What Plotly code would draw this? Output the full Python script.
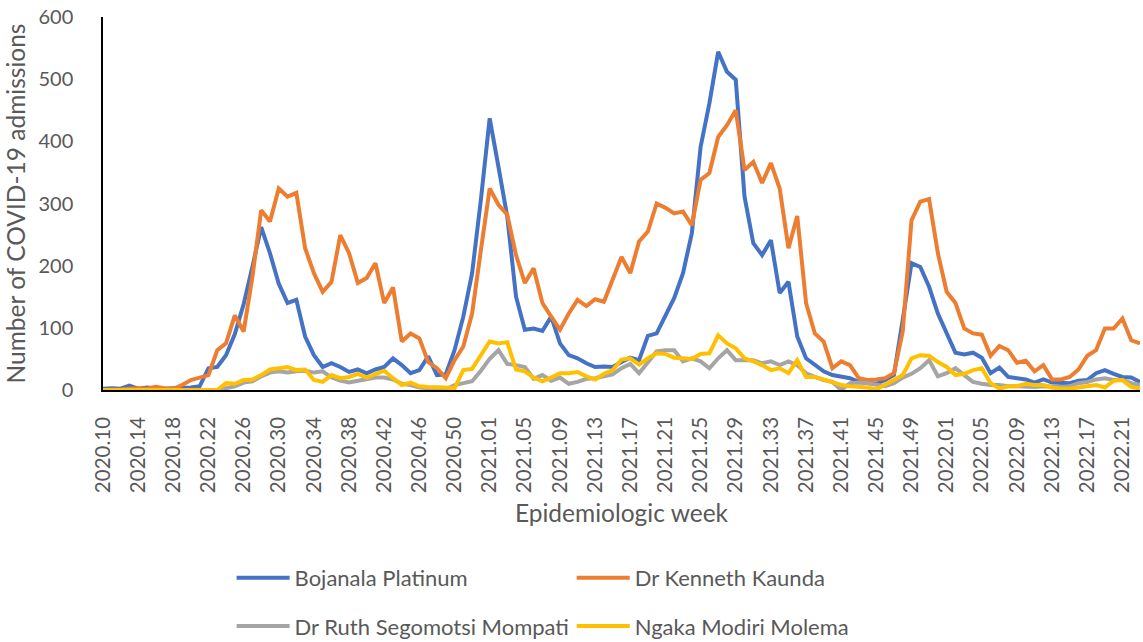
import plotly.graph_objects as go

# Epidemiologic week categories (2020 has 53 weeks)
weeks = ([f"2020.{w:02d}" for w in range(10, 54)]
         + [f"2021.{w:02d}" for w in range(1, 53)]
         + [f"2022.{w:02d}" for w in range(1, 24)])

bojanala = [2, 3, 2, 7, 2, 4, 3, 2, 3, 3, 4, 6,
            35, 37, 56, 90, 138, 198, 262, 220, 171, 140, 145, 86,
            56, 37, 43, 37, 29, 33, 27, 33, 37, 51, 40, 27,
            32, 54, 24, 25, 64, 118, 188, 306, 437, 359, 279, 150,
            97, 99, 95, 118, 75, 56, 51, 43, 37, 38, 37, 45,
            52, 48, 87, 91, 120, 148, 188, 252, 391, 461, 544, 512,
            499, 311, 236, 217, 241, 156, 174, 86, 51, 40, 30, 24,
            22, 19, 13, 12, 10, 16, 24, 113, 204, 198, 166, 123,
            91, 60, 57, 60, 52, 27, 36, 21, 19, 17, 12, 17,
            12, 11, 11, 15, 16, 27, 32, 26, 21, 20, 13]

kaunda = [0, 0, 1, 2, 3, 2, 5, 3, 2, 8, 16, 20,
          24, 64, 75, 120, 94, 182, 289, 271, 324, 311, 317, 228,
          188, 158, 174, 249, 220, 172, 180, 204, 140, 165, 78, 91,
          83, 45, 35, 19, 48, 70, 123, 225, 324, 298, 282, 217,
          172, 196, 140, 118, 97, 123, 145, 135, 146, 142, 180, 214,
          188, 239, 255, 300, 293, 284, 287, 265, 338, 349, 407, 426,
          450, 354, 367, 333, 365, 324, 228, 280, 140, 91, 78, 35,
          46, 40, 19, 16, 17, 19, 27, 94, 273, 303, 307, 220,
          158, 140, 99, 91, 89, 55, 71, 64, 44, 47, 30, 40,
          17, 17, 21, 33, 55, 64, 99, 99, 115, 80, 75]

mompati = [0, 0, 0, 0, 0, 0, 0, 0, 0, 0, 0, 0,
           0, 0, 3, 6, 12, 14, 22, 28, 30, 28, 30, 31,
           28, 30, 20, 15, 12, 15, 18, 20, 20, 17, 10, 8,
           4, 3, 2, 1, 8, 11, 14, 31, 50, 64, 42, 40,
           37, 18, 24, 15, 20, 10, 13, 18, 19, 22, 25, 35,
           42, 27, 44, 62, 64, 64, 46, 51, 46, 35, 51, 64,
           48, 48, 48, 43, 46, 40, 46, 40, 27, 21, 16, 13,
           0, 11, 12, 11, 8, 6, 11, 20, 26, 35, 48, 22,
           27, 35, 24, 13, 10, 8, 8, 6, 6, 5, 5, 6,
           5, 5, 6, 11, 13, 17, 19, 16, 16, 11, 8]

molema = [0, 0, 0, 0, 0, 0, 0, 0, 0, 0, 0, 0,
          0, 0, 11, 10, 16, 17, 24, 33, 35, 37, 32, 33,
          16, 13, 24, 19, 21, 26, 20, 26, 31, 19, 8, 12,
          6, 5, 5, 4, 3, 32, 34, 56, 78, 75, 77, 33,
          30, 20, 14, 20, 27, 27, 29, 22, 17, 26, 32, 49,
          51, 41, 51, 59, 58, 52, 51, 50, 58, 59, 88, 75,
          67, 51, 46, 40, 32, 35, 27, 48, 21, 21, 17, 12,
          8, 6, 5, 4, 1, 8, 16, 24, 51, 56, 55, 45,
          37, 24, 26, 32, 35, 11, 2, 6, 6, 10, 8, 8,
          4, 2, 2, 4, 6, 8, 4, 15, 16, 5, 2]

series = [
    ("Bojanala Platinum", bojanala, "#4472C4", "legend"),
    ("Dr Kenneth Kaunda", kaunda, "#ED7D31", "legend2"),
    ("Dr Ruth Segomotsi Mompati", mompati, "#A5A5A5", "legend3"),
    ("Ngaka Modiri Molema", molema, "#FFC000", "legend4"),
]

FONT = "Lato, 'Open Sans', sans-serif"
GREY = "#595959"

fig = go.Figure()
for name, vals, color, lg in series:
    fig.add_trace(go.Scatter(x=weeks, y=vals, name=name, mode="lines",
                             line=dict(color=color, width=4),
                             legend=lg, showlegend=True))

tickvals = weeks[::4]

legend_common = dict(orientation="h", xanchor="left", yanchor="middle",
                     itemwidth=53, font=dict(size=22, color=GREY),
                     bgcolor="rgba(0,0,0,0)")

fig.update_layout(
    width=1143, height=642,
    showlegend=True,
    margin=dict(l=103, r=3, t=17, b=252, autoexpand=False),
    paper_bgcolor="white", plot_bgcolor="white",
    font=dict(family=FONT, color=GREY, size=20),
    xaxis=dict(type="category", range=[0, len(weeks) - 1],
               tickmode="array", tickvals=tickvals, ticktext=tickvals,
               tickangle=-90, showgrid=False, zeroline=False,
               showline=True, linecolor="black", linewidth=1.5,
               ticks="", ticklabelstandoff=17,
               tickfont=dict(size=20.5, color=GREY),
               title=dict(text="Epidemiologic week",
                          font=dict(size=24.5, color=GREY), standoff=13)),
    yaxis=dict(range=[0, 600], dtick=100, showgrid=False, zeroline=False,
               showline=True, linecolor="black", linewidth=1.5,
               ticks="", ticklabelstandoff=24,
               tickfont=dict(size=20, color=GREY),
               title=dict(text="Number of COVID-19 admissions",
                          font=dict(size=24.5, color=GREY), standoff=6)),
    legend=dict(x=0.124, y=-0.504, **legend_common),
    legend2=dict(x=0.452, y=-0.504, **legend_common),
    legend3=dict(x=0.124, y=-0.633, **legend_common),
    legend4=dict(x=0.452, y=-0.633, **legend_common),
)

fig.write_html("out.html", config={"displayModeBar": False},
               post_script="document.body.style.margin='0';document.body.style.overflow='hidden';")
